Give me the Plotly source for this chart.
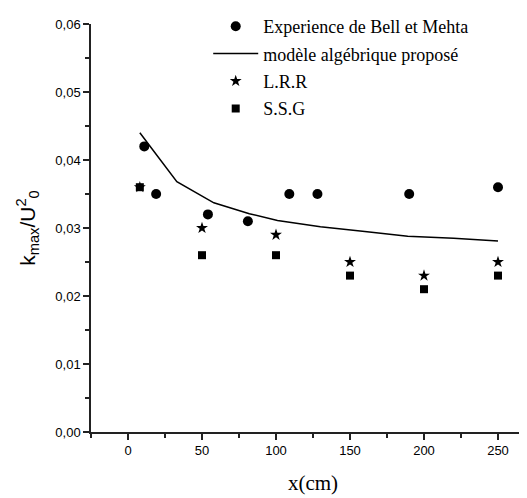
"""k_max/U0^2 along x: Bell & Mehta experiment vs models."""

import plotly.graph_objects as go

# Experience de Bell et Mehta
exp_x = [11, 19, 54, 81, 109, 128, 190, 250]
exp_y = [0.042, 0.035, 0.032, 0.031, 0.035, 0.035, 0.035, 0.036]

# modele algebrique propose
model_x = [8, 33, 58, 82, 101, 130, 160, 189, 220, 250]
model_y = [0.044, 0.0368, 0.0337, 0.0321, 0.0311, 0.0302, 0.0295, 0.0288, 0.0285, 0.0281]

# L.R.R
lrr_x = [8, 50, 100, 150, 200, 250]
lrr_y = [0.036, 0.030, 0.029, 0.025, 0.023, 0.025]

# S.S.G
ssg_x = [8, 50, 100, 150, 200, 250]
ssg_y = [0.036, 0.026, 0.026, 0.023, 0.021, 0.023]

fig = go.Figure()
fig.add_trace(go.Scatter(
    x=exp_x, y=exp_y, mode="markers", name="Experience de Bell et Mehta",
    marker=dict(symbol="circle", size=10, color="black"), legendgroup="a",
))
fig.add_trace(go.Scatter(
    x=model_x, y=model_y, mode="lines", name="modèle algébrique proposé",
    line=dict(color="black", width=1.5), legendgroup="b",
))
fig.add_trace(go.Scatter(
    x=lrr_x, y=lrr_y, mode="markers", name="L.R.R",
    marker=dict(symbol="star", size=9, color="black"), legendgroup="c",
))
fig.add_trace(go.Scatter(
    x=ssg_x, y=ssg_y, mode="markers", name="S.S.G",
    marker=dict(symbol="square", size=8, color="black"), legendgroup="d",
))

axis_font = dict(family="Liberation Sans, Arial, sans-serif", size=13, color="black")

fig.update_xaxes(
    range=[-25, 275],
    tickvals=[0, 50, 100, 150, 200, 250],
    ticks="outside", ticklen=6, tickwidth=1.5, tickcolor="#222",
    minor=dict(ticks="outside", dtick=25, tick0=0, ticklen=4, tickwidth=1.5, tickcolor="#222"),
    showline=True, linecolor="#222", linewidth=1.5,
    showgrid=False, zeroline=False,
    tickfont=axis_font,
    title=dict(text="x(cm)", font=dict(family="Liberation Serif, Times New Roman, serif",
                                       size=21, color="black"), standoff=18),
)
fig.update_yaxes(
    range=[0, 0.06],
    dtick=0.01, tickformat=".2f",
    ticks="outside", ticklen=6, tickwidth=1.5, tickcolor="#222",
    minor=dict(ticks="outside", dtick=0.005, ticklen=4, tickwidth=1.5, tickcolor="#222"),
    showline=True, linecolor="#222", linewidth=1.5,
    showgrid=False, zeroline=False,
    tickfont=axis_font,
    title=dict(text="k<sub>max</sub>/U<sup>2</sup><sub>0</sub>",
               font=dict(family="Liberation Sans, Arial, sans-serif", size=21, color="black"),
               standoff=14),
)

fig.update_layout(
    width=527, height=498,
    margin=dict(l=83, r=0, t=13, b=74),
    plot_bgcolor="white", paper_bgcolor="white",
    separators=",.",
    showlegend=True,
    legend=dict(
        x=0.264, y=1.04, xanchor="left", yanchor="top",
        bgcolor="rgba(0,0,0,0)",
        font=dict(family="Liberation Serif, Times New Roman, serif", size=18, color="black"),
        itemwidth=45, tracegroupgap=1,
    ),
)

fig.write_html("out.html")
